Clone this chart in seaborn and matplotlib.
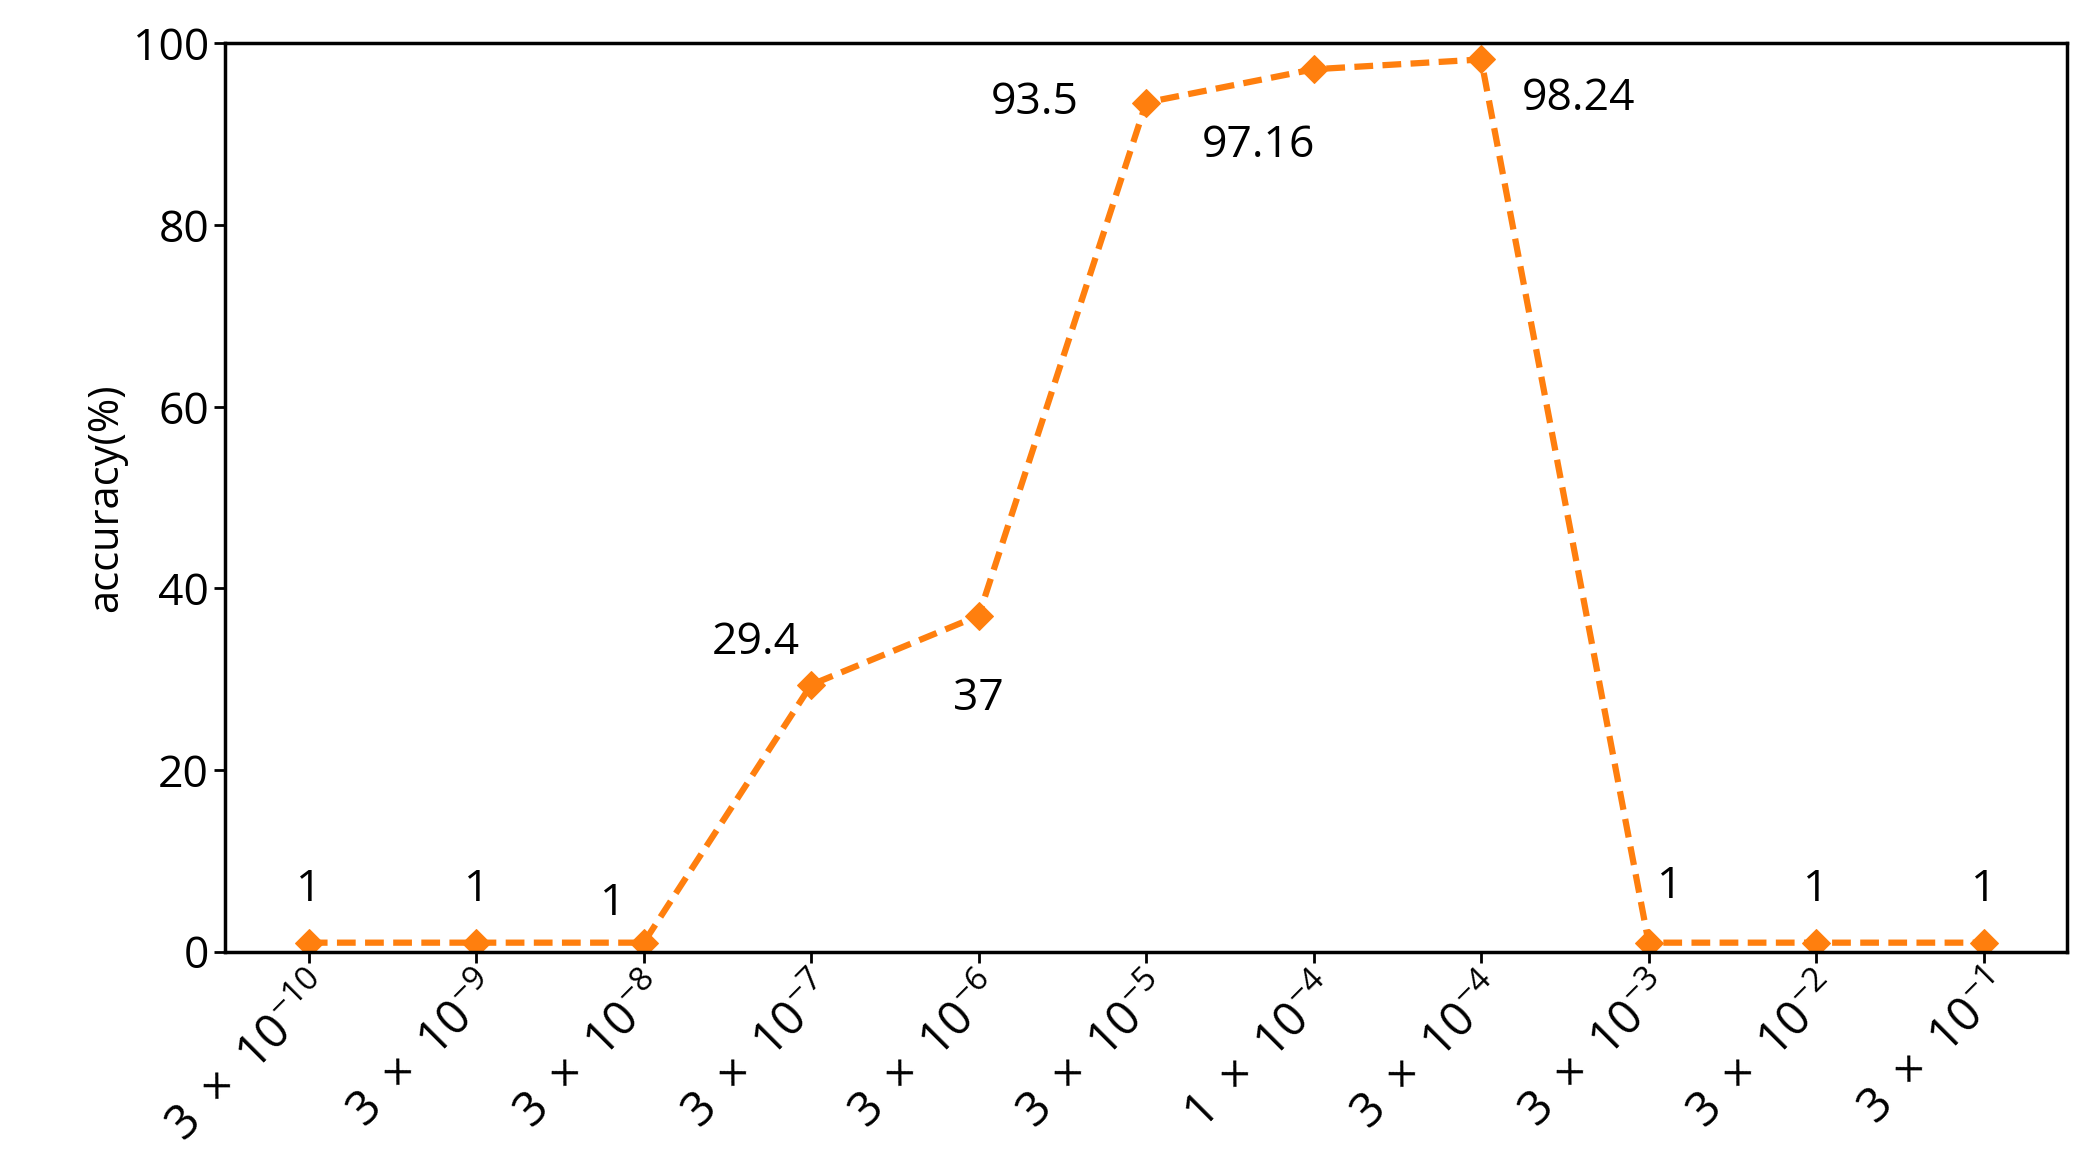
import matplotlib
matplotlib.use("Agg")
import matplotlib.pyplot as plt
import seaborn as sns
import pandas as pd

tick_labels = [r"$3\ \times\ 10^{-10}$", r"$3\ \times\ 10^{-9}$", r"$3\ \times\ 10^{-8}$", r"$3\ \times\ 10^{-7}$",
               r"$3\ \times\ 10^{-6}$", r"$3\ \times\ 10^{-5}$", r"$1\ \times\ 10^{-4}$", r"$3\ \times\ 10^{-4}$",
               r"$3\ \times\ 10^{-3}$", r"$3\ \times\ 10^{-2}$", r"$3\ \times\ 10^{-1}$"]
accuracy = [1, 1, 1, 29.4, 37, 93.5, 97.16, 98.24, 1, 1, 1]
value_labels = ["1", "1", "1", "29.4", "37", "93.5", "97.16", "98.24", "1", "1", "1"]
label_offsets = [(0, 38), (0, 38), (-22, 28), (-40, 30), (0, -60), (-80, 0), (-40, -55), (70, -28), (15, 40), (0, 38), (0, 38)]

sns.set_theme(style="white")
plt.rcParams['font.family'] = ['Open Sans', 'DejaVu Sans']
plt.rcParams['mathtext.fontset'] = 'custom'
plt.rcParams['mathtext.rm'] = 'Open Sans'
plt.rcParams['mathtext.it'] = 'Open Sans'
plt.rcParams['text.color'] = 'black'
plt.rcParams['axes.labelcolor'] = 'black'
plt.rcParams['xtick.color'] = 'black'
plt.rcParams['ytick.color'] = 'black'

fig = plt.figure(figsize=(20.84, 11.75), dpi=100)
ax = fig.add_axes([0.108, 0.19, 0.884, 0.773])
df = pd.DataFrame({"x": list(range(len(accuracy))), "acc": accuracy})
color = "#FF7F0E"
sns.lineplot(data=df, x="x", y="acc", ax=ax, color=color, linewidth=4.5,
             linestyle=(0, (3, 1.5)), marker="D", markersize=14, markeredgecolor=color)
for i, (v, t, off) in enumerate(zip(accuracy, value_labels, label_offsets)):
    ax.annotate(t, (i, v), xytext=off, textcoords="offset points", ha="center", va="center", fontsize=32)

ax.set_xlim(-0.5, len(accuracy) - 0.5)
ax.set_ylim(0, 100)
ax.set_yticks([0, 20, 40, 60, 80, 100])
ax.set_xticks(range(len(accuracy)))
ax.set_xticklabels(tick_labels, rotation=45, ha="right", rotation_mode="anchor", fontsize=34)
ax.tick_params(axis="y", labelsize=32, direction="out", length=8, width=2, left=True)
ax.tick_params(axis="x", direction="out", length=8, width=2, bottom=True)
ax.set_xlabel("")
ax.set_ylabel("accuracy(%)", fontsize=30)
for s in ax.spines.values():
    s.set_color("black")
    s.set_linewidth(2.5)
fig.savefig("out.png", dpi=100)
